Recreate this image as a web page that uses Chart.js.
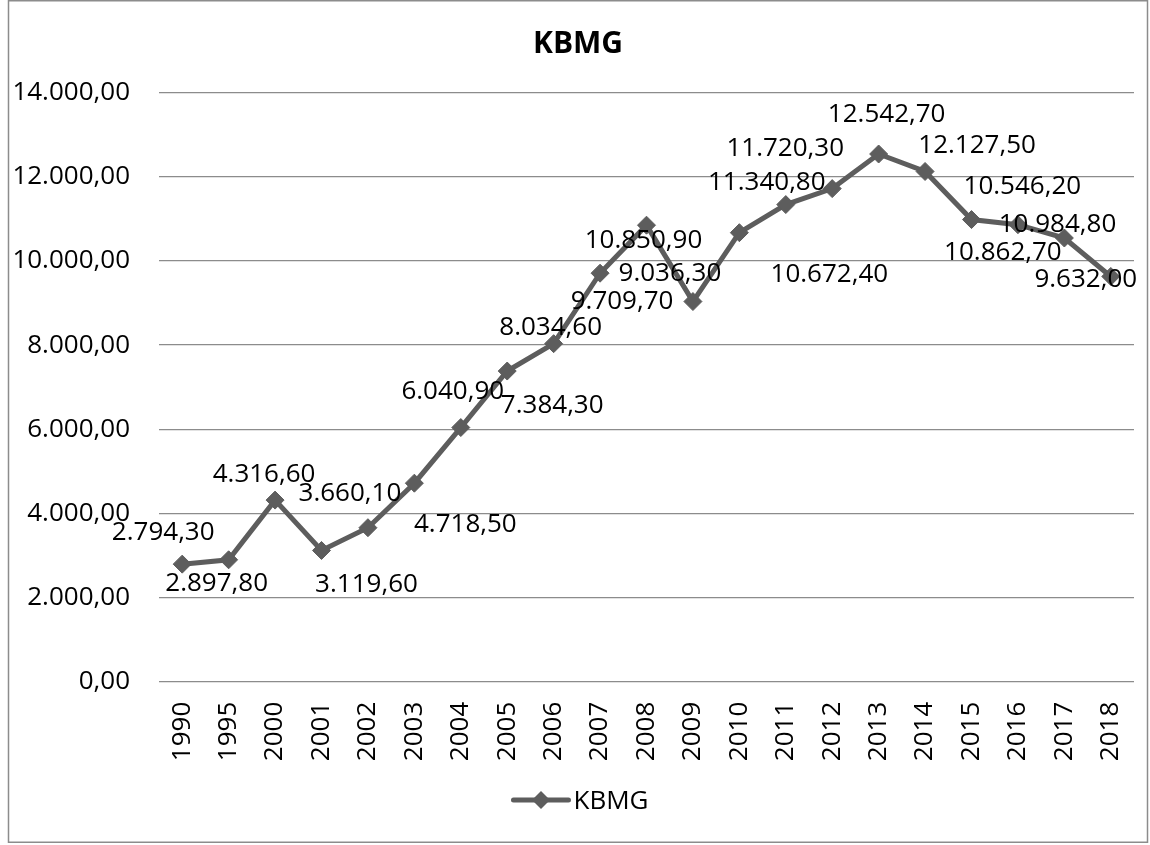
<!DOCTYPE html>
<html>
<head>
<meta charset="utf-8">
<script src="https://cdn.jsdelivr.net/npm/chart.js@4.4.1/dist/chart.umd.min.js"></script>
<style>
  html, body { margin: 0; padding: 0; background: #fff; }
  canvas { display: block; }
</style>
</head>
<body>
<canvas id="c" width="1150" height="845"></canvas>
<script>
// ---- data ----
const categories = ['1990','1995','2000','2001','2002','2003','2004','2005','2006','2007','2008','2009','2010','2011','2012','2013','2014','2015','2016','2017','2018'];
const kbmgValues = [2794.3, 2897.8, 4316.6, 3119.6, 3660.1, 4718.5, 6040.9, 7384.3, 8034.6, 9709.7, 10850.9, 9036.3, 10672.4, 11340.8, 11720.3, 12542.7, 12127.5, 10984.8, 10862.7, 10546.2, 9632.0];
const yTicks = [0, 2000, 4000, 6000, 8000, 10000, 12000, 14000];
const seriesName = 'KBMG';
const chartTitle = 'KBMG';

// label nudges relative to each point (px), mimicking the reference layout
const labelDx = [-19, -12, -11, 45, -18, 51, -8, 45, -3, 22, -3, -23, 90, -19, -47, 8, 52, 86, -15, -42, -25];
const labelDy = [-33, 22, -27, 32, -36, 40, -38, 33, -18, 27, 14, -30, 40, -24, -42, -41, -28, 3, 26, -53, 1];

function fmt(v) {
  const neg = v < 0;
  v = Math.abs(v);
  const fixed = v.toFixed(2);
  let [ip, dp] = fixed.split('.');
  ip = ip.replace(/\B(?=(\d{3})+(?!\d))/g, '.');
  return (neg ? '-' : '') + ip + ',' + dp;
}

const FONT = "'Open Sans', sans-serif";
const FS = 26;
const LINE_COLOR = '#5d5d5d';

const framePlugin = {
  id: 'frame',
  beforeDraw(chart) {
    const ctx = chart.ctx;
    ctx.save();
    ctx.fillStyle = '#fff';
    ctx.fillRect(0, 0, chart.width, chart.height);
    ctx.strokeStyle = '#8c8c8c';
    ctx.lineWidth = 1.5;
    ctx.strokeRect(8.5, 0.75, 1139, 841.5);
    // title
    ctx.fillStyle = '#000';
    ctx.font = "bold 30px " + FONT;
    ctx.textAlign = 'center';
    ctx.textBaseline = 'alphabetic';
    ctx.fillText(chartTitle, 578, 53);
    ctx.restore();
  }
};

const dataLabelPlugin = {
  id: 'dataLabels',
  afterDatasetsDraw(chart) {
    const ctx = chart.ctx;
    const meta = chart.getDatasetMeta(0);
    ctx.save();
    ctx.font = FS + "px " + FONT;
    ctx.fillStyle = '#000';
    ctx.textAlign = 'center';
    ctx.textBaseline = 'alphabetic';
    meta.data.forEach((pt, i) => {
      const v = chart.data.datasets[0].data[i];
      ctx.fillText(fmt(v), pt.x + labelDx[i], pt.y + labelDy[i] + 9.3);
    });
    ctx.restore();
  }
};

const legendPlugin = {
  id: 'customLegend',
  afterDraw(chart) {
    const ctx = chart.ctx;
    ctx.save();
    ctx.font = FS + "px " + FONT;
    const tw = ctx.measureText(seriesName).width;
    const lineLen = 55, gap = 5;
    const total = lineLen + gap + tw;
    const cx = 581;
    const x0 = cx - total / 2;
    const y = 800;
    ctx.strokeStyle = LINE_COLOR;
    ctx.lineWidth = 5;
    ctx.lineCap = 'round';
    ctx.beginPath();
    ctx.moveTo(x0, y);
    ctx.lineTo(x0 + lineLen, y);
    ctx.stroke();
    const mx = x0 + lineLen / 2, r = 9;
    ctx.fillStyle = LINE_COLOR;
    ctx.beginPath();
    ctx.moveTo(mx, y - r); ctx.lineTo(mx + r, y); ctx.lineTo(mx, y + r); ctx.lineTo(mx - r, y);
    ctx.closePath();
    ctx.fill();
    ctx.fillStyle = '#000';
    ctx.textAlign = 'left';
    ctx.textBaseline = 'alphabetic';
    ctx.fillText(seriesName, x0 + lineLen + gap, y + 9.3);
    ctx.restore();
  }
};

new Chart(document.getElementById('c'), {
  type: 'line',
  data: {
    labels: categories,
    datasets: [{
      label: seriesName,
      data: kbmgValues,
      borderColor: LINE_COLOR,
      backgroundColor: LINE_COLOR,
      borderWidth: 5,
      pointStyle: 'rectRot',
      pointRadius: 9,
      pointHoverRadius: 9,
      pointBorderWidth: 1,
      pointBackgroundColor: LINE_COLOR,
      pointBorderColor: LINE_COLOR,
      tension: 0,
      fill: false
    }]
  },
  options: {
    responsive: false,
    animation: false,
    devicePixelRatio: 1,
    layout: { padding: { left: 0, right: 16, top: 92.7, bottom: 0 } },
    plugins: {
      legend: { display: false },
      tooltip: { enabled: false },
      title: { display: false }
    },
    scales: {
      x: {
        type: 'category',
        offset: true,
        grid: { display: false, drawTicks: false },
        border: { display: false },
        ticks: {
          color: '#000',
          font: { family: FONT, size: FS },
          minRotation: 90,
          maxRotation: 90,
          padding: 20,
          autoSkip: false
        },
        afterFit(scale) {
          scale.height = 163.3;
          scale.paddingLeft = 0;
          scale.paddingRight = 0;
        }
      },
      y: {
        min: 0,
        max: 14000,
        afterBuildTicks(scale) { scale.ticks = yTicks.map(v => ({ value: v })); },
        grid: { color: '#8c8c8c', lineWidth: 1.3, drawTicks: false },
        border: { display: false },
        ticks: {
          color: '#000',
          font: { family: FONT, size: FS },
          padding: 29,
          callback: (v) => fmt(v)
        },
        afterFit(scale) {
          scale.width = 159;
          scale.paddingTop = 0;
          scale.paddingBottom = 0;
        }
      }
    }
  },
  plugins: [framePlugin, dataLabelPlugin, legendPlugin]
});
</script>
</body>
</html>
